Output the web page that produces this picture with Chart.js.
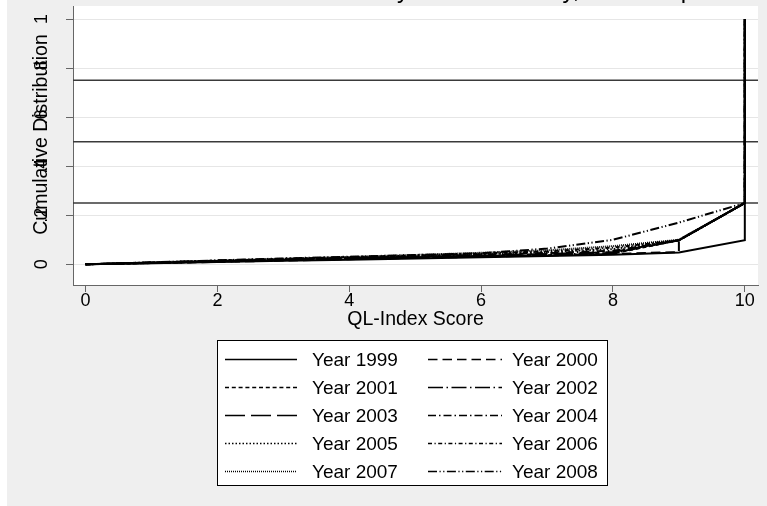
<!DOCTYPE html>
<html>
<head>
<meta charset="utf-8">
<script src="https://cdn.jsdelivr.net/npm/chart.js@4"></script>
<style>
  body { margin: 0; background: #fff; }
</style>
</head>
<body>
<canvas id="cdfChart" width="767" height="506"></canvas>
<script>
// QL-Index score on x; score 9 and 10 appear twice (steps in the cumulative curve)
const scores = [0, 1, 2, 3, 4, 5, 6, 7, 8, 9, 9, 10, 10];
const years = ["Year 1999", "Year 2000", "Year 2001", "Year 2002", "Year 2003",
               "Year 2004", "Year 2005", "Year 2006", "Year 2007", "Year 2008"];

const y1999 = [0, 0.004, 0.009, 0.014, 0.019, 0.024, 0.029, 0.034, 0.039, 0.048, 0.048, 0.098, 1];
const y2000 = [0, 0.005, 0.010, 0.015, 0.021, 0.026, 0.031, 0.036, 0.042, 0.050, 0.098, 0.25, 1];
const y2001 = [0, 0.005, 0.011, 0.017, 0.022, 0.027, 0.032, 0.037, 0.044, 0.098, 0.098, 0.25, 1];
const y2002 = [0, 0.006, 0.012, 0.018, 0.024, 0.029, 0.034, 0.039, 0.046, 0.098, 0.098, 0.25, 1];
const y2003 = [0, 0.006, 0.012, 0.018, 0.025, 0.030, 0.036, 0.042, 0.050, 0.098, 0.098, 0.25, 1];
const y2004 = [0, 0.006, 0.013, 0.020, 0.026, 0.032, 0.039, 0.046, 0.055, 0.098, 0.098, 0.25, 1];
const y2005 = [0, 0.007, 0.014, 0.021, 0.028, 0.034, 0.042, 0.050, 0.062, 0.098, 0.098, 0.25, 1];
const y2006 = [0, 0.007, 0.015, 0.022, 0.029, 0.036, 0.044, 0.053, 0.068, 0.098, 0.098, 0.25, 1];
const y2007 = [0, 0.008, 0.015, 0.023, 0.030, 0.038, 0.047, 0.057, 0.074, 0.100, 0.100, 0.25, 1];
const y2008 = [0, 0.008, 0.016, 0.024, 0.031, 0.038, 0.045, 0.064, 0.100, 0.170, 0.170, 0.25, 1];
const seriesValues = [y1999, y2000, y2001, y2002, y2003, y2004, y2005, y2006, y2007, y2008];

const xTicks = [0, 2, 4, 6, 8, 10];
const yTicks = [0, 0.2, 0.4, 0.6, 0.8, 1];
const yTickLabels = ["0", ".2", ".4", ".6", ".8", "1"];
const refLines = [0.25, 0.5, 0.75];

const titleText = "Cumulative Distribution of Scores by Local Authority, Full Sample";
const xTitle = "QL-Index Score";
const yTitle = "Cumulative Distribution";

// stata-like line patterns, one per year
const dashes = [
  [],
  [9.5, 5],
  [4, 2.8],
  [15, 3.5, 1.5, 3.5],
  [20, 6],
  [8, 3, 1.5, 3],
  [1.5, 2],
  [4, 2.5, 1.2, 2.5],
  [1, 1],
  [9, 2.5, 1.2, 2.5, 1.2, 2.5],
];

const FONT = "'Liberation Sans', Arial, Helvetica, sans-serif";
const axisColor = "#666666";

const stataDecor = {
  id: "stataDecor",
  beforeDraw(chart) {
    const { ctx, chartArea: a } = chart;
    ctx.save();
    ctx.fillStyle = "#ffffff";
    ctx.fillRect(0, 0, chart.width, chart.height);
    ctx.fillStyle = "#efefef";
    ctx.fillRect(7, 0, chart.width - 7, chart.height);
    ctx.fillStyle = "#ffffff";
    ctx.fillRect(a.left, a.top, a.right - a.left, a.bottom - a.top);
    ctx.restore();
  },
  beforeDatasetsDraw(chart) {
    const { ctx, chartArea: a } = chart;
    const ys = chart.scales.y;
    ctx.save();
    ctx.strokeStyle = "#3a3a3a";
    ctx.lineWidth = 1.5;
    refLines.forEach((v) => {
      const y = ys.getPixelForValue(v);
      ctx.beginPath();
      ctx.moveTo(a.left, y);
      ctx.lineTo(a.right, y);
      ctx.stroke();
    });
    ctx.restore();
  },
  afterDraw(chart) {
    const { ctx, chartArea: a } = chart;
    const ys = chart.scales.y;
    ctx.save();
    ctx.fillStyle = "#000";

    // y tick labels, rotated like stata
    ctx.font = "18px " + FONT;
    ctx.textAlign = "center";
    ctx.textBaseline = "alphabetic";
    yTicks.forEach((v, i) => {
      ctx.save();
      ctx.translate(a.left - 26, ys.getPixelForValue(v));
      ctx.rotate(-Math.PI / 2);
      ctx.fillText(yTickLabels[i], 0, 0);
      ctx.restore();
    });

    // y axis title (overlaps tick labels in the original)
    ctx.font = "19.5px " + FONT;
    ctx.save();
    ctx.translate(a.left - 26, (a.top + a.bottom) / 2 - 11);
    ctx.rotate(-Math.PI / 2);
    ctx.fillText(yTitle, 0, 0);
    ctx.restore();

    // title, mostly cut off by the top edge
    ctx.font = "24px " + FONT;
    ctx.textAlign = "left";
    const pre = ctx.measureText("Cumulative Distribution of Scores b").width;
    const yw = ctx.measureText("y").width;
    ctx.fillText(titleText, 403 - pre - yw / 2, -2);

    // legend box, two columns
    const box = { x: 217, y: 340, w: 390, h: 145 };
    ctx.fillStyle = "#ffffff";
    ctx.fillRect(box.x, box.y, box.w, box.h);
    ctx.strokeStyle = "#000";
    ctx.lineWidth = 1;
    ctx.strokeRect(box.x + 0.5, box.y + 0.5, box.w, box.h);

    const cols = [
      { l0: 225, l1: 297, tx: 312 },
      { l0: 428, l1: 502, tx: 512 },
    ];
    ctx.font = "19px " + FONT;
    ctx.textBaseline = "middle";
    chart.data.datasets.forEach((ds, i) => {
      const c = cols[i % 2];
      const y = box.y + 19.5 + Math.floor(i / 2) * 28;
      ctx.strokeStyle = "#000";
      ctx.lineWidth = 1.5;
      ctx.setLineDash(ds.borderDash);
      ctx.beginPath();
      ctx.moveTo(c.l0, y);
      ctx.lineTo(c.l1, y);
      ctx.stroke();
      ctx.setLineDash([]);
      ctx.fillStyle = "#000";
      ctx.fillText(ds.label, c.tx, y + 1);
    });
    ctx.restore();
  },
};

const datasets = seriesValues.map((vals, i) => ({
  label: years[i],
  data: scores.map((s, j) => ({ x: s, y: vals[j] })),
  borderColor: "#000",
  borderWidth: 2,
  borderDash: dashes[i],
  pointRadius: 0,
  fill: false,
  tension: 0,
}));

new Chart(document.getElementById("cdfChart"), {
  type: "line",
  data: { datasets: datasets },
  options: {
    responsive: false,
    animation: false,
    devicePixelRatio: 1,
    layout: { padding: { left: 0, right: 9, top: 6, bottom: 173 } },
    plugins: {
      legend: { display: false },
      tooltip: { enabled: false },
    },
    scales: {
      x: {
        type: "linear",
        min: -0.19,
        max: 10.2,
        afterBuildTicks: (s) => { s.ticks = xTicks.map((v) => ({ value: v })); },
        afterFit: (s) => { s.height = 48; },
        grid: { drawOnChartArea: false, drawTicks: true, tickLength: 7, tickColor: axisColor },
        border: { color: axisColor, width: 1 },
        ticks: {
          color: "#000",
          font: { family: FONT, size: 18 },
          padding: -2,
          maxRotation: 0,
          callback: (v) => String(v),
        },
        title: {
          display: true,
          text: xTitle,
          color: "#000",
          font: { family: FONT, size: 19.5 },
          padding: { top: 0, bottom: 1.5 },
        },
      },
      y: {
        type: "linear",
        min: -0.0844,
        max: 1.053,
        afterBuildTicks: (s) => { s.ticks = yTicks.map((v) => ({ value: v })); },
        afterFit: (s) => { s.width = 73; },
        grid: { color: "#e6e6e6", drawTicks: true, tickLength: 7, tickColor: axisColor },
        border: { color: axisColor, width: 1 },
        ticks: { display: false },
      },
    },
  },
  plugins: [stataDecor],
});
</script>
</body>
</html>
